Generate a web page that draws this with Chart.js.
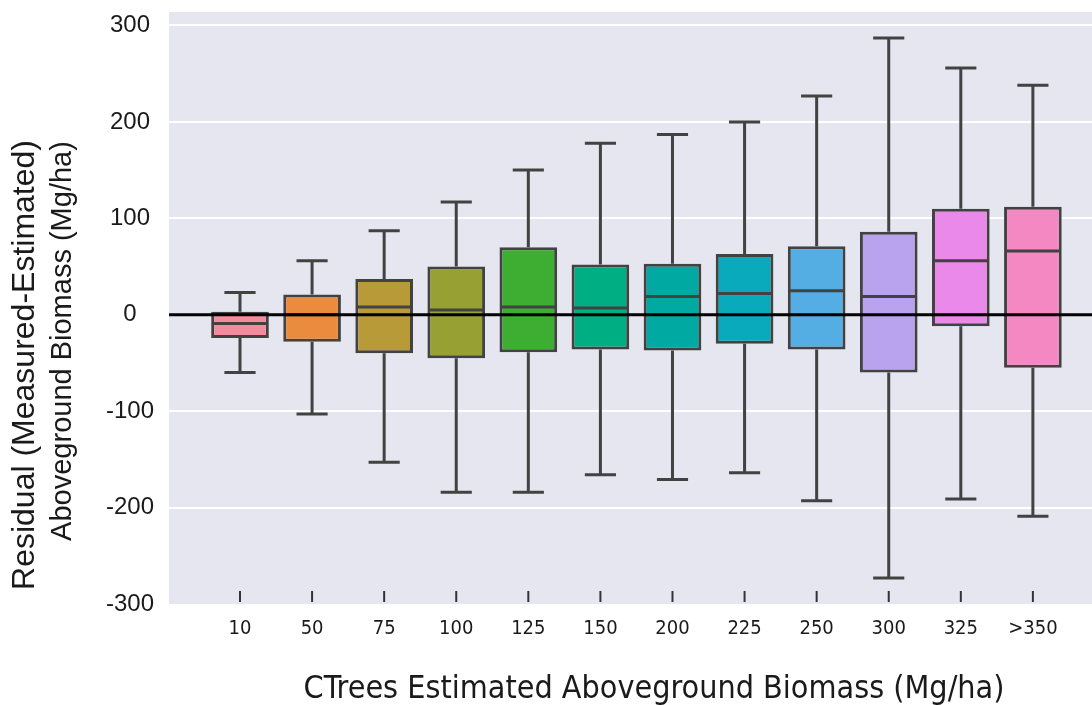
<!DOCTYPE html>
<html>
<head>
<meta charset="utf-8">
<script src="https://cdn.jsdelivr.net/npm/chart.js@4.4.1/dist/chart.umd.min.js"></script>
<style>
  html, body { margin: 0; padding: 0; background: #ffffff; }
  #wrap { width: 1092px; height: 705px; }
</style>
</head>
<body>
<div id="wrap"><canvas id="boxChart" width="1092" height="705"></canvas></div>
<script>
// categorias (CTrees AGB, Mg/ha)
const categories = ['10', '50', '75', '100', '125', '150', '200', '225', '250', '300', '325', '>350'];
// estatísticas do boxplot
const whiskerLow  = [-60, -103, -153, -184, -184, -166, -171, -164, -193, -273, -191, -209];
const q1          = [-24, -28, -40, -45, -39, -36, -37, -30, -36, -60, -12, -55];
const medians     = [-9, 0, 8, 5, 8, 7, 19, 22, 25, 19, 56, 66];
const q3          = [3, 21, 37, 50, 70, 52, 53, 63, 71, 86, 110, 112];
const whiskerHigh = [23, 56, 87, 117, 150, 178, 187, 200, 227, 287, 256, 238];
const yTickValues = [-300, -200, -100, 0, 100, 200, 300];

const boxColors = ['#f48b9d', '#ea8b3e', '#b99a38', '#97a032', '#3dae31', '#00ae83',
                   '#00aaa3', '#0aaabd', '#55aee3', '#b9a3ee', '#ea89e9', '#f488c3'];
const lineColor = '#424242';
const narrowFont = '"Liberation Sans Narrow", "DejaVu Sans Condensed", sans-serif';

const boxData = categories.map((c, i) => ({ x: i, y: [q1[i], q3[i]] }));

// fundo cinza, bigodes, medianas, linha zero, títulos
const boxPlugin = {
    id: 'boxExtras',
    beforeDraw(chart) {
        const { ctx, chartArea } = chart;
        ctx.save();
        ctx.fillStyle = '#e6e6f0';
        ctx.fillRect(chartArea.left, chartArea.top, chartArea.right - chartArea.left, chartArea.bottom - chartArea.top);
        ctx.restore();
    },
    beforeDatasetsDraw(chart) {
        const { ctx } = chart;
        const y = chart.scales.y;
        const meta = chart.getDatasetMeta(0);
        ctx.save();
        ctx.strokeStyle = lineColor;
        ctx.lineWidth = 3;
        meta.data.forEach((bar, i) => {
            const cx = bar.x;
            const capHalf = bar.width * 0.27;
            const yLow = y.getPixelForValue(whiskerLow[i]);
            const yHigh = y.getPixelForValue(whiskerHigh[i]);
            ctx.beginPath();
            ctx.moveTo(cx, yHigh);
            ctx.lineTo(cx, y.getPixelForValue(q3[i]));
            ctx.moveTo(cx, y.getPixelForValue(q1[i]));
            ctx.lineTo(cx, yLow);
            ctx.moveTo(cx - capHalf, yHigh);
            ctx.lineTo(cx + capHalf, yHigh);
            ctx.moveTo(cx - capHalf, yLow);
            ctx.lineTo(cx + capHalf, yLow);
            ctx.stroke();
        });
        ctx.restore();
    },
    afterDatasetsDraw(chart) {
        const { ctx, chartArea } = chart;
        const y = chart.scales.y;
        const x = chart.scales.x;
        const meta = chart.getDatasetMeta(0);
        ctx.save();
        ctx.strokeStyle = lineColor;
        ctx.lineWidth = 3;
        meta.data.forEach((bar, i) => {
            const ym = y.getPixelForValue(medians[i]);
            ctx.beginPath();
            ctx.moveTo(bar.x - bar.width / 2 + 1, ym);
            ctx.lineTo(bar.x + bar.width / 2 - 1, ym);
            ctx.stroke();
        });
        // linha de referência em zero
        const y0 = y.getPixelForValue(0);
        ctx.strokeStyle = '#000000';
        ctx.lineWidth = 3;
        ctx.beginPath();
        ctx.moveTo(chartArea.left, y0);
        ctx.lineTo(chartArea.right, y0);
        ctx.stroke();
        // marcas do eixo x
        ctx.strokeStyle = '#333333';
        ctx.lineWidth = 2;
        x.ticks.forEach(t => {
            const px = x.getPixelForValue(t.value);
            ctx.beginPath();
            ctx.moveTo(px, chartArea.bottom - 13);
            ctx.lineTo(px, chartArea.bottom - 2);
            ctx.stroke();
        });
        ctx.restore();
    },
    afterDraw(chart) {
        const { ctx } = chart;
        ctx.save();
        ctx.fillStyle = '#1a1a1a';
        ctx.textAlign = 'center';
        ctx.textBaseline = 'middle';
        ctx.font = '32px "Liberation Sans", Arial, sans-serif';
        ctx.translate(25, 365);
        ctx.rotate(-Math.PI / 2);
        ctx.fillText('Residual (Measured-Estimated)', 0, 0);
        ctx.restore();
        ctx.save();
        ctx.fillStyle = '#1a1a1a';
        ctx.textAlign = 'center';
        ctx.textBaseline = 'middle';
        ctx.font = '29px "Liberation Sans", Arial, sans-serif';
        ctx.translate(63, 341);
        ctx.rotate(-Math.PI / 2);
        ctx.fillText('Aboveground Biomass (Mg/ha)', 0, 0);
        ctx.restore();
        ctx.save();
        ctx.fillStyle = '#1a1a1a';
        ctx.textAlign = 'center';
        ctx.textBaseline = 'middle';
        ctx.font = '32px ' + narrowFont;
        ctx.fillText('CTrees Estimated Aboveground Biomass (Mg/ha)', 654, 690);
        ctx.restore();
    }
};

const boxChartConfig = {
    type: 'bar',
    data: {
        datasets: [{
            data: boxData,
            backgroundColor: boxColors,
            borderColor: lineColor,
            borderWidth: 3,
            borderSkipped: false,
            barPercentage: 0.8,
            categoryPercentage: 1.0
        }]
    },
    options: {
        responsive: false,
        animation: false,
        layout: { padding: { top: 12, right: 0, left: 0, bottom: 0 } },
        plugins: {
            legend: { display: false },
            tooltip: { enabled: false }
        },
        scales: {
            x: {
                type: 'linear',
                bounds: 'data',
                offset: false,
                min: -0.985,
                max: 11.82,
                afterBuildTicks: scale => {
                    scale.ticks = categories.map((c, i) => ({ value: i }));
                },
                afterFit: scale => {
                    scale.height = 101;
                    scale.paddingLeft = 0;
                    scale.paddingRight = 0;
                },
                grid: { display: false, drawTicks: false },
                border: { display: false },
                ticks: {
                    autoSkip: false,
                    maxRotation: 0,
                    padding: 13,
                    color: '#1a1a1a',
                    font: { family: narrowFont, size: 20 },
                    callback: value => categories[value]
                }
            },
            y: {
                type: 'linear',
                bounds: 'data',
                min: -300,
                max: 314,
                afterBuildTicks: scale => {
                    scale.ticks = yTickValues.map(v => ({ value: v }));
                },
                afterFit: scale => {
                    scale.width = 169;
                    scale.paddingTop = 0;
                    scale.paddingBottom = 0;
                },
                grid: {
                    color: ctx => (ctx.tick && ctx.tick.value === -300) ? 'rgba(0,0,0,0)' : '#ffffff',
                    lineWidth: 2,
                    drawTicks: false
                },
                border: { display: false },
                ticks: {
                    crossAlign: 'center',
                    padding: 15,
                    color: '#1a1a1a',
                    font: { family: '"Liberation Sans", Arial, sans-serif', size: 24 }
                }
            }
        }
    },
    plugins: [boxPlugin]
};

const ctxBox = document.getElementById('boxChart').getContext('2d');
new Chart(ctxBox, boxChartConfig);
</script>
</body>
</html>
